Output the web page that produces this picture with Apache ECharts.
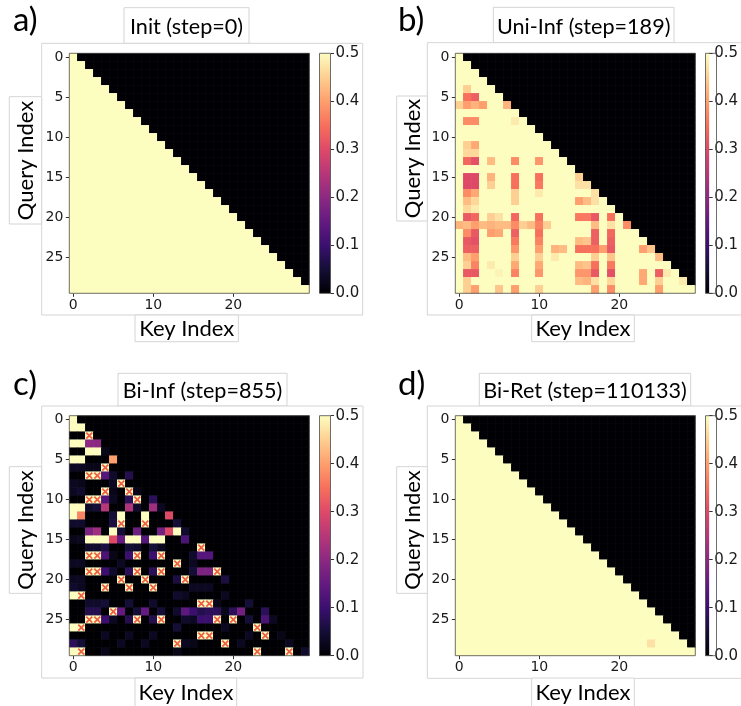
<!DOCTYPE html>
<html>
<head>
<meta charset="utf-8">
<script src="https://cdn.jsdelivr.net/npm/echarts@6/dist/echarts.min.js"></script>
<style>
  html, body { margin: 0; padding: 0; background: #ffffff; }
  #chart { width: 741px; height: 706px; }
</style>
</head>
<body>
<div id="chart"></div>
<script>
// ---- data ---------------------------------------------------------------
// token positions (both keys and queries)
const TOKEN_INDEX = [0, 1, 2, 3, 4, 5, 6, 7, 8, 9, 10, 11, 12, 13, 14,
                     15, 16, 17, 18, 19, 20, 21, 22, 23, 24, 25, 26, 27, 28, 29];
const KEY_TICKS = [0, 10, 20];
const QUERY_TICKS = [0, 5, 10, 15, 20, 25];
const COLORBAR_TICKS = [0.0, 0.1, 0.2, 0.3, 0.4, 0.5];

const PANEL_LETTERS = ['a)', 'b)', 'c)', 'd)'];
const PANEL_TITLES = ['Init (step=0)', 'Uni-Inf (step=189)', 'Bi-Inf (step=855)', 'Bi-Ret (step=110133)'];

// attention weight on and below the diagonal (keys 0..query) unless a cell is listed
const CAUSAL_FILL = [0.5, 0.5, 0.0, 0.5];
// attention weight above the diagonal (future keys)
const MASKED_FILL = 0.0;

// listed cells: [query, key, weight]
const INIT_CELLS = [];

const UNI_INF_CELLS = [
  [4,1,0.45],
  [5,1,0.35],[5,2,0.33],
  [6,0,0.45],[6,1,0.40],[6,2,0.42],[6,3,0.40],[6,6,0.42],
  [8,1,0.38],[8,2,0.38],[8,7,0.48],
  [11,1,0.45],[11,2,0.41],
  [12,1,0.46],[12,2,0.46],
  [13,1,0.34],[13,2,0.31],[13,4,0.43],[13,7,0.38],[13,10,0.39],
  [15,1,0.30],[15,2,0.30],[15,4,0.42],[15,7,0.35],[15,10,0.35],[15,15,0.45],
  [16,1,0.30],[16,2,0.30],[16,4,0.45],[16,7,0.35],[16,10,0.36],[16,15,0.47],[16,16,0.47],
  [17,1,0.38],[17,2,0.41],[17,7,0.45],[17,10,0.48],[17,17,0.47],
  [18,1,0.43],[18,2,0.46],[18,7,0.45],[18,15,0.40],[18,16,0.43],[18,17,0.47],
  [19,1,0.46],[19,2,0.48],
  [20,1,0.32],[20,2,0.34],[20,4,0.45],[20,5,0.47],[20,7,0.34],[20,10,0.35],
  [20,15,0.36],[20,16,0.36],[20,17,0.32],[20,19,0.35],
  [21,0,0.42],[21,1,0.43],[21,2,0.40],[21,3,0.43],[21,4,0.42],[21,5,0.43],[21,6,0.43],
  [21,7,0.38],[21,8,0.45],[21,9,0.43],[21,10,0.37],[21,11,0.45],[21,17,0.43],[21,19,0.47],[21,21,0.38],
  [22,1,0.38],[22,2,0.32],[22,4,0.40],[22,5,0.41],[22,7,0.33],[22,10,0.35],[22,17,0.33],[22,19,0.34],
  [23,1,0.32],[23,2,0.31],[23,7,0.36],[23,10,0.37],[23,15,0.43],[23,16,0.44],[23,17,0.33],[23,19,0.33],
  [24,1,0.33],[24,2,0.33],[24,7,0.39],[24,10,0.40],[24,12,0.42],[24,13,0.43],[24,15,0.35],
  [24,16,0.35],[24,17,0.35],[24,18,0.40],[24,19,0.32],[24,23,0.40],[24,24,0.44],
  [25,1,0.43],[25,2,0.40],[25,7,0.45],[25,10,0.45],[25,12,0.48],[25,17,0.45],[25,19,0.44],[25,25,0.43],
  [26,1,0.45],[26,2,0.37],[26,4,0.48],[26,7,0.41],[26,10,0.41],[26,15,0.43],[26,16,0.44],[26,17,0.35],[26,19,0.36],
  [27,1,0.32],[27,2,0.32],[27,5,0.49],[27,7,0.37],[27,10,0.39],[27,15,0.39],[27,16,0.39],
  [27,17,0.32],[27,19,0.31],[27,23,0.41],[27,25,0.33],[27,26,0.48],
  [28,1,0.45],[28,15,0.43],[28,16,0.42],[28,17,0.47],[28,19,0.46],[28,23,0.41],[28,25,0.45],[28,28,0.48],
  [29,1,0.45],[29,2,0.40],[29,5,0.44],[29,7,0.40],[29,10,0.45],[29,17,0.40],[29,19,0.38],[29,25,0.40]
];

const BI_INF_CELLS = [
  [0,0,0.5],
  [1,0,0.5],[1,1,0.5],
  [3,0,0.5],[3,1,0.5],[3,2,0.20],[3,3,0.20],
  [4,2,0.5],[4,3,0.5],[4,4,0.02],
  [5,0,0.5],[5,1,0.5],[5,5,0.40],
  [6,0,0.03],[6,1,0.03],[6,2,0.02],[6,3,0.02],
  [7,4,0.13],[7,5,0.04],[7,7,0.07],
  [8,0,0.03],[8,1,0.02],[8,5,0.03],
  [9,0,0.03],[9,1,0.04],[9,5,0.02],[9,8,0.02],
  [10,4,0.13],[10,5,0.03],[10,7,0.08],[10,10,0.08],
  [11,0,0.5],[11,1,0.5],[11,2,0.04],[11,3,0.05],[11,4,0.25],[11,7,0.24],[11,8,0.04],[11,10,0.22],[11,11,0.03],
  [12,0,0.5],[12,1,0.37],[12,5,0.05],[12,6,0.5],[12,9,0.5],[12,12,0.30],
  [13,0,0.04],[13,1,0.04],[13,5,0.06],[13,13,0.05],
  [14,2,0.18],[14,3,0.22],[14,5,0.5],[14,6,0.05],[14,8,0.16],[14,11,0.17],[14,12,0.30],[14,13,0.5],[14,14,0.04],
  [15,0,0.02],[15,1,0.03],[15,2,0.5],[15,3,0.5],[15,4,0.5],[15,5,0.30],[15,6,0.15],[15,7,0.5],
  [15,8,0.5],[15,9,0.13],[15,10,0.5],[15,11,0.5],[15,14,0.12],
  [16,2,0.04],[16,3,0.04],[16,4,0.06],[16,7,0.05],[16,8,0.04],[16,10,0.05],[16,11,0.03],
  [17,4,0.12],[17,5,0.02],[17,7,0.10],[17,10,0.10],[17,15,0.04],[17,16,0.13],[17,17,0.13],
  [18,0,0.03],[18,1,0.03],[18,6,0.03],[18,15,0.03],
  [19,4,0.10],[19,5,0.04],[19,7,0.08],[19,10,0.08],[19,15,0.05],[19,16,0.18],[19,17,0.18],
  [20,0,0.03],[20,1,0.03],[20,13,0.06],[20,19,0.06],
  [21,0,0.04],[21,1,0.03],[21,15,0.03],[21,16,0.03],[21,17,0.03],
  [22,0,0.5],[22,13,0.04],[22,14,0.03],[22,19,0.03],
  [23,2,0.04],[23,3,0.04],[23,4,0.05],[23,7,0.05],[23,10,0.04],[23,18,0.02],[23,22,0.05],
  [24,2,0.07],[24,3,0.07],[24,6,0.15],[24,8,0.05],[24,9,0.15],[24,11,0.05],[24,13,0.04],[24,14,0.14],
  [24,15,0.10],[24,16,0.07],[24,17,0.08],[24,18,0.08],[24,19,0.02],[24,20,0.08],[24,21,0.17],[24,24,0.08],
  [25,4,0.10],[25,5,0.03],[25,7,0.07],[25,10,0.07],[25,14,0.04],[25,15,0.03],[25,16,0.10],[25,17,0.10],
  [25,22,0.05],[25,24,0.12],[25,25,0.03],
  [26,0,0.5],[26,13,0.05],[26,19,0.03],
  [27,4,0.03],[27,7,0.03],[27,10,0.03],[27,22,0.03],[27,26,0.02],
  [28,0,0.08],[28,1,0.05],[28,6,0.03],[28,9,0.03],[28,14,0.03],[28,15,0.02],[28,21,0.03],[28,27,0.03],
  [29,0,0.5],[29,4,0.02],[29,13,0.02],[29,29,0.04]
];

// cells marked with a cross: [query, key], weight 0.5
const BI_INF_CROSSES = [
  [2,2],[6,4],[7,2],[7,3],[8,6],[9,4],[9,7],[10,2],[10,3],[10,8],[13,6],[13,9],
  [16,16],[17,2],[17,3],[17,8],[17,11],[18,13],[19,2],[19,3],[19,8],[19,11],[19,18],
  [20,6],[20,9],[20,14],[21,4],[21,7],[21,10],[22,1],[23,16],[23,17],[24,5],
  [25,2],[25,3],[25,8],[25,11],[25,18],[25,20],[26,1],[26,23],[27,16],[27,17],[27,24],
  [28,13],[28,19],[29,1],[29,23],[29,27]
];
const CROSS_WEIGHT = 0.5;

const BI_RET_CELLS = [[28,24,0.47]];

const PANEL_CELLS = [INIT_CELLS, UNI_INF_CELLS, BI_INF_CELLS, BI_RET_CELLS];
const PANEL_CROSSES = [[], [], BI_INF_CROSSES, []];

// magma colormap, 11 evenly spaced samples
const MAGMA = ['#000004', '#140e36', '#3b0f70', '#641a80', '#8c2981', '#b73779',
               '#de4968', '#f7705c', '#fe9f6d', '#fecf92', '#fcfdbf'];

// ---- layout -------------------------------------------------------------
const FRAME = '#d4d4d4';
const SPINE = '#4a4a4a';
const LABEL_FONT = 'Lato, "Noto Sans", sans-serif';
const TICK_FONT = '"DejaVu Sans", sans-serif';

const LAYOUT = [
  { gx: 69.3, gy: 53.3, cbx: 319.5, letter: [13, 37],
    boxes: [[124, 7.7, 125, 35.6], [41.7, 43.3, 321, 271.7], [9.3, 96.7, 32.4, 127.3], [135, 315, 103.3, 26.7]],
    title: [186.5, 27], qText: [26, 160.5], kText: [186.7, 328.5] },
  { gx: 455.3, gy: 53.3, cbx: 705.5, letter: [398, 37],
    boxes: [[493.3, 7.3, 180.7, 35.4], [427.3, 42.7, 340, 272.3], [396.7, 96, 30.6, 125], [531.7, 315, 102.6, 26.7]],
    title: [583.7, 27], qText: [412.5, 158.5], kText: [583, 328.5] },
  { gx: 69.3, gy: 415.7, cbx: 319.5, letter: [13, 401],
    boxes: [[118, 373.3, 169, 32.7], [41.7, 406, 321.3, 272], [9.3, 466.7, 32.4, 126.6], [135, 678, 101.7, 40]],
    title: [202.5, 391], qText: [26, 530], kText: [186, 692.5] },
  { gx: 455.3, gy: 415.7, cbx: 705.5, letter: [398, 401],
    boxes: [[479.3, 373.3, 211.4, 32.7], [427.3, 406, 340, 272.3], [396.7, 466.7, 30.6, 126.6], [531.7, 678, 102.6, 40]],
    title: [585, 391], qText: [412.5, 530], kText: [583, 692.5] }
];
const SIDE = 240;
const CB_W = 11;

// ---- build the option ---------------------------------------------------
function buildMatrix(p) {
  const grid = TOKEN_INDEX.map(q => TOKEN_INDEX.map(k => (k <= q ? CAUSAL_FILL[p] : MASKED_FILL)));
  PANEL_CELLS[p].forEach(([q, k, v]) => { grid[q][k] = v; });
  PANEL_CROSSES[p].forEach(([q, k]) => { grid[q][k] = CROSS_WEIGHT; });
  const data = [];
  TOKEN_INDEX.forEach(q => TOKEN_INDEX.forEach(k => data.push([k, q, grid[q][k]])));
  return data;
}

const grids = [], xAxes = [], yAxes = [], series = [], graphics = [];
const heatmapSeries = [];

LAYOUT.forEach((L, p) => {
  // heatmap grid
  const hg = grids.length;
  grids.push({ left: L.gx, top: L.gy, width: SIDE, height: SIDE, containLabel: false });
  xAxes.push({
    type: 'category', gridIndex: hg, data: TOKEN_INDEX, position: 'bottom',
    axisLine: { show: false },
    axisTick: { show: true, alignWithLabel: true, length: 3.5, interval: i => KEY_TICKS.includes(i),
                lineStyle: { color: '#333', width: 1 } },
    axisLabel: { interval: i => KEY_TICKS.includes(i), margin: 5, fontSize: 14, color: '#1a1a1a', fontFamily: TICK_FONT },
    splitLine: { show: false }, splitArea: { show: false }
  });
  yAxes.push({
    type: 'category', gridIndex: hg, data: TOKEN_INDEX, inverse: true, position: 'left',
    axisLine: { show: false },
    axisTick: { show: true, alignWithLabel: true, length: 3.5, interval: i => QUERY_TICKS.includes(i),
                lineStyle: { color: '#333', width: 1 } },
    axisLabel: { interval: i => QUERY_TICKS.includes(i), margin: 6, fontSize: 14, color: '#1a1a1a', fontFamily: TICK_FONT },
    splitLine: { show: false }, splitArea: { show: false }
  });
  heatmapSeries.push(series.length);
  series.push({
    type: 'heatmap', xAxisIndex: hg, yAxisIndex: hg, data: buildMatrix(p),
    progressive: 0, silent: true, emphasis: { disabled: true }, itemStyle: { borderWidth: 0 }
  });
  if (PANEL_CROSSES[p].length) {
    series.push({
      type: 'scatter', xAxisIndex: hg, yAxisIndex: hg, silent: true, z: 5,
      data: PANEL_CROSSES[p].map(([q, k]) => [k, q]),
      symbol: 'path://M0,0L10,10M10,0L0,10', symbolSize: 6,
      itemStyle: { color: 'rgba(0,0,0,0)', borderColor: '#ee3326', borderWidth: 1.7 }
    });
  }

  // colour bar grid
  const cg = grids.length;
  grids.push({ left: L.cbx, top: L.gy, width: CB_W, height: SIDE, containLabel: false });
  xAxes.push({ type: 'category', gridIndex: cg, data: ['w'], show: false });
  yAxes.push({
    type: 'value', gridIndex: cg, position: 'right', min: COLORBAR_TICKS[0],
    max: COLORBAR_TICKS[COLORBAR_TICKS.length - 1], interval: 0.1,
    axisLine: { show: false },
    axisTick: { show: true, length: 3.5, lineStyle: { color: '#333', width: 1 } },
    axisLabel: { margin: 5, fontSize: 15, color: '#1a1a1a', fontFamily: TICK_FONT, formatter: v => v.toFixed(1) },
    splitLine: { show: false }
  });
  series.push({
    type: 'bar', xAxisIndex: cg, yAxisIndex: cg, silent: true, barWidth: '100%',
    data: [COLORBAR_TICKS[COLORBAR_TICKS.length - 1]],
    itemStyle: { color: { type: 'linear', x: 0, y: 1, x2: 0, y2: 0,
      colorStops: MAGMA.map((c, i) => ({ offset: i / (MAGMA.length - 1), color: c })) } }
  });

  // panel frames: outlined union of white boxes
  L.boxes.forEach(([x, y, w, h]) => graphics.push({
    type: 'rect', z: -10, silent: true, shape: { x, y, width: w, height: h },
    style: { fill: '#ffffff', stroke: FRAME, lineWidth: 1 }
  }));
  L.boxes.forEach(([x, y, w, h]) => graphics.push({
    type: 'rect', z: -9, silent: true, shape: { x: x + 1, y: y + 1, width: w - 2, height: h - 2 },
    style: { fill: '#ffffff' }
  }));

  // spines around heatmap and colour bar
  graphics.push({ type: 'rect', z: 20, silent: true, shape: { x: L.gx, y: L.gy, width: SIDE, height: SIDE },
    style: { fill: null, stroke: SPINE, lineWidth: 0.8 } });
  graphics.push({ type: 'rect', z: 20, silent: true, shape: { x: L.cbx, y: L.gy, width: CB_W, height: SIDE },
    style: { fill: null, stroke: SPINE, lineWidth: 0.8 } });

  // texts
  graphics.push({ type: 'text', z: 30, x: L.letter[0], y: L.letter[1], silent: true,
    style: { text: PANEL_LETTERS[p], fill: '#000', fontSize: 33, fontFamily: LABEL_FONT,
             textAlign: 'left', textVerticalAlign: 'bottom' } });
  graphics.push({ type: 'text', z: 30, x: L.title[0], y: L.title[1], silent: true,
    style: { text: PANEL_TITLES[p], fill: '#000', fontSize: 21.6, fontFamily: LABEL_FONT,
             textAlign: 'center', textVerticalAlign: 'middle' } });
  graphics.push({ type: 'text', z: 30, x: L.qText[0], y: L.qText[1], rotation: Math.PI / 2, silent: true,
    style: { text: 'Query Index', fill: '#000', fontSize: 22, fontFamily: LABEL_FONT,
             textAlign: 'center', textVerticalAlign: 'middle' } });
  graphics.push({ type: 'text', z: 30, x: L.kText[0], y: L.kText[1], silent: true,
    style: { text: 'Key Index', fill: '#000', fontSize: 22, fontFamily: LABEL_FONT,
             textAlign: 'center', textVerticalAlign: 'middle' } });
});

const chart = echarts.init(document.getElementById('chart'), null, { renderer: 'canvas' });
chart.setOption({
  backgroundColor: '#ffffff',
  animation: false,
  grid: grids,
  xAxis: xAxes,
  yAxis: yAxes,
  visualMap: {
    type: 'continuous', show: false, min: 0, max: 0.5, dimension: 2,
    seriesIndex: heatmapSeries, inRange: { color: MAGMA }
  },
  graphic: { elements: graphics },
  series: series
});
</script>
</body>
</html>
